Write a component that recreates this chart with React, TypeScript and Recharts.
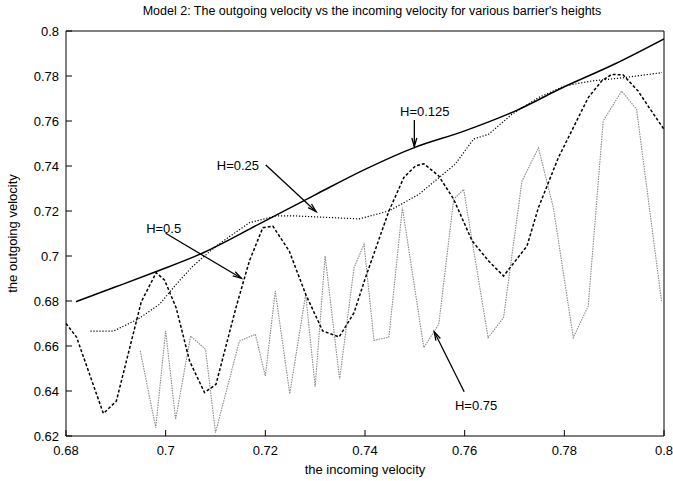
import { LineChart, Line, XAxis, YAxis, ReferenceLine, ReferenceDot } from 'recharts';

const xTicks = [0.68, 0.7, 0.72, 0.74, 0.76, 0.78, 0.8];
const yTicks = [0.62, 0.64, 0.66, 0.68, 0.7, 0.72, 0.74, 0.76, 0.78, 0.8];

// H=0.125 (solid)
const h125 = [
  { x: 0.682, y: 0.6797 },
  { x: 0.69, y: 0.6863 },
  { x: 0.698, y: 0.693 },
  { x: 0.7068, y: 0.7007 },
  { x: 0.719, y: 0.7145 },
  { x: 0.73, y: 0.7272 },
  { x: 0.74, y: 0.7385 },
  { x: 0.75, y: 0.7483 },
  { x: 0.76, y: 0.7556 },
  { x: 0.77, y: 0.7643 },
  { x: 0.78, y: 0.7752 },
  { x: 0.79, y: 0.7852 },
  { x: 0.8, y: 0.7965 },
];

// H=0.25 (fine dots)
const h25 = [
  { x: 0.6849, y: 0.6666 },
  { x: 0.6895, y: 0.6666 },
  { x: 0.6945, y: 0.672 },
  { x: 0.6988, y: 0.6786 },
  { x: 0.7021, y: 0.6874 },
  { x: 0.7055, y: 0.6956 },
  { x: 0.7101, y: 0.7044 },
  { x: 0.7168, y: 0.7148 },
  { x: 0.7221, y: 0.7178 },
  { x: 0.7261, y: 0.7178 },
  { x: 0.7388, y: 0.7165 },
  { x: 0.7448, y: 0.72 },
  { x: 0.7508, y: 0.7274 },
  { x: 0.7581, y: 0.7408 },
  { x: 0.7618, y: 0.752 },
  { x: 0.7648, y: 0.7541 },
  { x: 0.7695, y: 0.763 },
  { x: 0.7748, y: 0.7704 },
  { x: 0.7801, y: 0.7756 },
  { x: 0.7855, y: 0.7778 },
  { x: 0.7921, y: 0.7793 },
  { x: 0.7996, y: 0.7815 },
];

// H=0.5 (dashed)
const h50 = [
  { x: 0.68, y: 0.67 },
  { x: 0.6821, y: 0.664 },
  { x: 0.6875, y: 0.63 },
  { x: 0.6901, y: 0.6355 },
  { x: 0.6951, y: 0.6796 },
  { x: 0.6981, y: 0.6926 },
  { x: 0.6998, y: 0.6892 },
  { x: 0.7021, y: 0.677 },
  { x: 0.7048, y: 0.6533 },
  { x: 0.7078, y: 0.6393 },
  { x: 0.7101, y: 0.643 },
  { x: 0.7141, y: 0.677 },
  { x: 0.7168, y: 0.6978 },
  { x: 0.7195, y: 0.7126 },
  { x: 0.7215, y: 0.7133 },
  { x: 0.7248, y: 0.7022 },
  { x: 0.7281, y: 0.683 },
  { x: 0.7315, y: 0.6667 },
  { x: 0.7348, y: 0.664 },
  { x: 0.7378, y: 0.6748 },
  { x: 0.7401, y: 0.6904 },
  { x: 0.7448, y: 0.72 },
  { x: 0.7478, y: 0.7349 },
  { x: 0.7501, y: 0.74 },
  { x: 0.7518, y: 0.741 },
  { x: 0.7548, y: 0.7356 },
  { x: 0.7578, y: 0.7252 },
  { x: 0.7615, y: 0.7067 },
  { x: 0.7648, y: 0.6978 },
  { x: 0.7678, y: 0.6911 },
  { x: 0.7725, y: 0.7044 },
  { x: 0.7748, y: 0.7215 },
  { x: 0.7788, y: 0.7437 },
  { x: 0.7848, y: 0.7704 },
  { x: 0.7875, y: 0.7778 },
  { x: 0.7895, y: 0.7807 },
  { x: 0.7918, y: 0.7805 },
  { x: 0.7948, y: 0.7733 },
  { x: 0.7975, y: 0.7644 },
  { x: 0.8, y: 0.7563 },
];

// H=0.75 (grey dots)
const h75 = [
  { x: 0.6949, y: 0.6578 },
  { x: 0.698, y: 0.6237 },
  { x: 0.7, y: 0.6667 },
  { x: 0.702, y: 0.6274 },
  { x: 0.705, y: 0.6644 },
  { x: 0.708, y: 0.6585 },
  { x: 0.71, y: 0.6215 },
  { x: 0.7148, y: 0.6622 },
  { x: 0.718, y: 0.6652 },
  { x: 0.72, y: 0.6467 },
  { x: 0.722, y: 0.6844 },
  { x: 0.7249, y: 0.6388 },
  { x: 0.7281, y: 0.683 },
  { x: 0.73, y: 0.6419 },
  { x: 0.732, y: 0.7 },
  { x: 0.7349, y: 0.6452 },
  { x: 0.7378, y: 0.6948 },
  { x: 0.7398, y: 0.7052 },
  { x: 0.7418, y: 0.6625 },
  { x: 0.7448, y: 0.664 },
  { x: 0.7475, y: 0.7215 },
  { x: 0.7518, y: 0.6593 },
  { x: 0.7548, y: 0.6696 },
  { x: 0.7578, y: 0.7252 },
  { x: 0.7598, y: 0.7296 },
  { x: 0.7647, y: 0.6637 },
  { x: 0.7678, y: 0.6726 },
  { x: 0.7715, y: 0.7333 },
  { x: 0.7748, y: 0.7481 },
  { x: 0.7778, y: 0.7215 },
  { x: 0.7818, y: 0.6637 },
  { x: 0.7848, y: 0.6778 },
  { x: 0.7878, y: 0.76 },
  { x: 0.7915, y: 0.7733 },
  { x: 0.7945, y: 0.7652 },
  { x: 0.7995, y: 0.68 },
];

const labels = [
  { text: 'H=0.125', x: 0.752, y: 0.7641 },
  { text: 'H=0.25', x: 0.7145, y: 0.7404 },
  { text: 'H=0.5', x: 0.6996, y: 0.7123 },
  { text: 'H=0.75', x: 0.7623, y: 0.6338 },
];

const arrows = [
  { from: { x: 0.7499, y: 0.7604 }, to: { x: 0.7499, y: 0.7486 } },
  { from: { x: 0.7201, y: 0.7404 }, to: { x: 0.7302, y: 0.7197 } },
  { from: { x: 0.7, y: 0.7101 }, to: { x: 0.7152, y: 0.6901 } },
  { from: { x: 0.7599, y: 0.6397 }, to: { x: 0.7539, y: 0.6663 } },
];

const font = '"Liberation Sans", Arial, sans-serif';
const fmt = (v: number) => String(+v.toFixed(2));

const Arrow = (props: any) => {
  const { x1, y1, x2, y2 } = props;
  if (x1 == null || x2 == null) return <g />;
  const a = Math.atan2(y2 - y1, x2 - x1);
  const len = 9;
  const spread = 0.28;
  const p1x = x2 - len * Math.cos(a - spread);
  const p1y = y2 - len * Math.sin(a - spread);
  const p2x = x2 - len * Math.cos(a + spread);
  const p2y = y2 - len * Math.sin(a + spread);
  return (
    <g stroke="#000" strokeWidth={1.3} fill="none">
      <line x1={x1} y1={y1} x2={x2} y2={y2} />
      <polyline points={`${p1x},${p1y} ${x2},${y2} ${p2x},${p2y}`} />
    </g>
  );
};

export default function App() {
  const tickStyle = { fontSize: 13, fill: '#000', fontFamily: font };
  return (
    <div style={{ position: 'absolute', left: 0, top: 0, width: 673, height: 481, background: '#fff', fontFamily: font }}>
      <div style={{ position: 'absolute', left: 66, width: 612, top: 4, textAlign: 'center', fontSize: 12.5, color: '#000' }}>
        Model 2: The outgoing velocity vs the incoming velocity for various barrier's heights
      </div>
      <LineChart width={673} height={481} margin={{ top: 21, right: 1, bottom: 5, left: 6 }}>
        <XAxis
          xAxisId="b"
          dataKey="x"
          type="number"
          domain={[0.68, 0.8]}
          ticks={xTicks}
          tickFormatter={fmt}
          allowDataOverflow
          height={40}
          tickSize={-6}
          tickMargin={16}
          tick={tickStyle}
          stroke="#000"
          label={{ value: 'the incoming velocity', position: 'insideBottom', offset: 2, style: { fontSize: 13, fill: '#000', fontFamily: font } }}
        />
        <XAxis
          xAxisId="t"
          orientation="top"
          dataKey="x"
          type="number"
          domain={[0.68, 0.8]}
          ticks={xTicks}
          allowDataOverflow
          height={10}
          tickSize={-6}
          tick={false}
          stroke="#000"
        />
        <YAxis
          yAxisId="l"
          type="number"
          domain={[0.62, 0.8]}
          ticks={yTicks}
          tickFormatter={fmt}
          allowDataOverflow
          width={60}
          tickSize={-6}
          tickMargin={13}
          tick={tickStyle}
          stroke="#000"
          label={{ value: 'the outgoing velocity', angle: -90, position: 'insideLeft', offset: 6, style: { textAnchor: 'middle', fontSize: 13, fill: '#000', fontFamily: font } }}
        />
        <YAxis
          yAxisId="r"
          orientation="right"
          type="number"
          domain={[0.62, 0.8]}
          ticks={yTicks}
          allowDataOverflow
          width={8}
          tickSize={-6}
          tick={false}
          stroke="#000"
        />
        <Line xAxisId="b" yAxisId="l" data={h75} dataKey="y" type="linear" stroke="#8a8a8a" strokeWidth={1.1} strokeDasharray="1.5 1" dot={false} isAnimationActive={false} />
        <Line xAxisId="b" yAxisId="l" data={h25} dataKey="y" type="linear" stroke="#000" strokeWidth={1.2} strokeDasharray="1.2 1.8" dot={false} isAnimationActive={false} />
        <Line xAxisId="b" yAxisId="l" data={h50} dataKey="y" type="linear" stroke="#000" strokeWidth={1.5} strokeDasharray="3 2" dot={false} isAnimationActive={false} />
        <Line xAxisId="b" yAxisId="l" data={h125} dataKey="y" type="monotone" stroke="#000" strokeWidth={1.5} dot={false} isAnimationActive={false} />
        {arrows.map((a, i) => (
          <ReferenceLine key={'a' + i} xAxisId="b" yAxisId="l" segment={[a.from, a.to]} shape={Arrow} />
        ))}
        {labels.map((l) => (
          <ReferenceDot
            key={l.text}
            xAxisId="b"
            yAxisId="l"
            x={l.x}
            y={l.y}
            r={0}
            fill="none"
            stroke="none"
            label={{ value: l.text, position: 'center', style: { fontSize: 13, fill: '#000', fontFamily: font } }}
          />
        ))}
      </LineChart>
    </div>
  );
}
